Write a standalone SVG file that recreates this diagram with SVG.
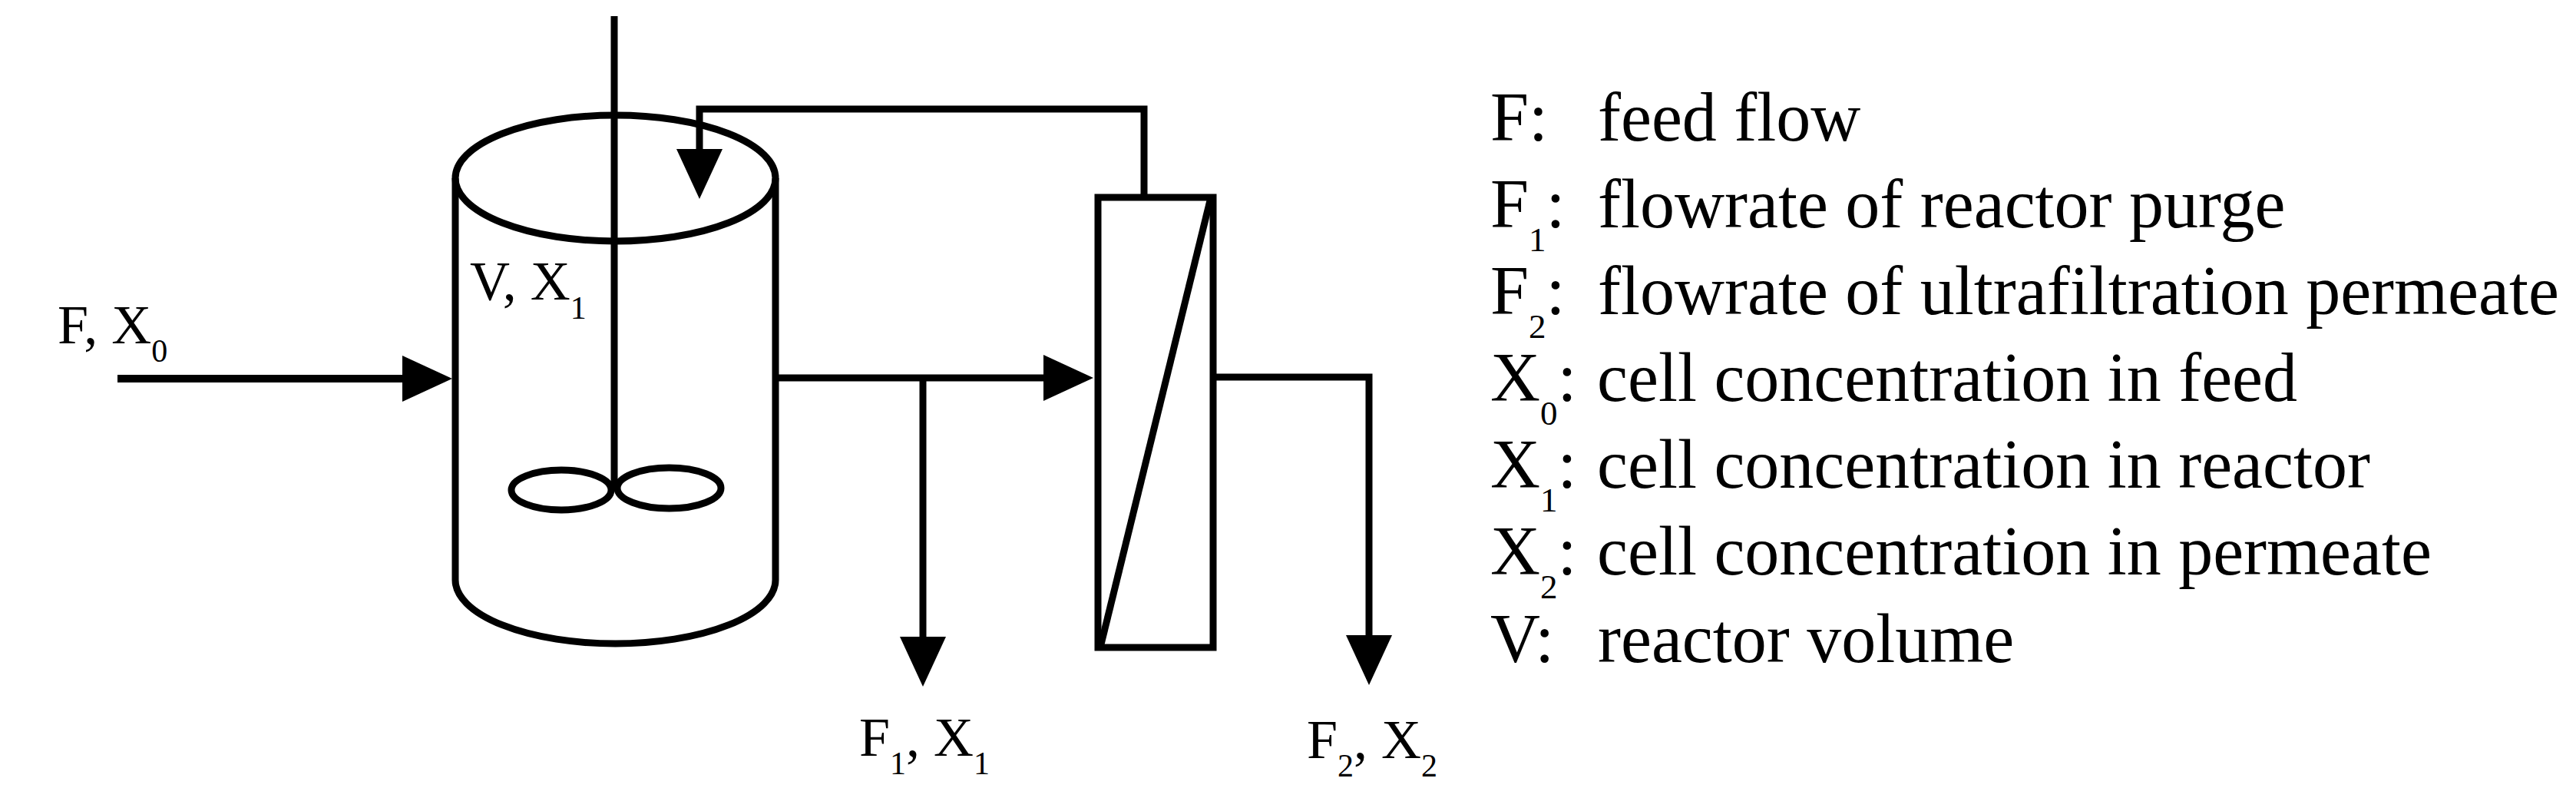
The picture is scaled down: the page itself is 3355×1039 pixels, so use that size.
<svg xmlns="http://www.w3.org/2000/svg" width="3355" height="1039" viewBox="0 0 3355 1039">
  <style>
    .ln { fill: none; stroke: #000; stroke-width: 9; stroke-linejoin: miter; stroke-linecap: butt; }
    text { font-family: 'Liberation Serif', serif; fill: #000; }
    .lbl { font-size: 72px; }
    .leg { font-size: 90px; }
  </style>
  <defs>
    <marker id="ah" markerUnits="userSpaceOnUse" markerWidth="66" markerHeight="60" refX="3" refY="30" orient="auto" viewBox="0 0 66 60">
      <path d="M0,0 L65,30 L0,60 Z" fill="#000"/>
    </marker>
  </defs>
  <rect x="0" y="0" width="3355" height="1039" fill="#fff"/>

  <g id="reactor">
    <path class="ln" d="M593,232 V755 A208.5,83 0 0 0 1010,755 V232"/>
    <ellipse class="ln" cx="801.5" cy="232" rx="208.5" ry="82"/>
    <line class="ln" x1="800" y1="21" x2="800" y2="634"/>
    <ellipse class="ln" cx="731" cy="638" rx="65" ry="26"/>
    <ellipse class="ln" cx="871.5" cy="635.5" rx="67.5" ry="26.5"/>
    <text class="lbl" x="612" y="390">V, X<tspan font-size="42" dy="25">1</tspan></text>
  </g>

  <g id="ultrafilter">
    <rect class="ln" x="1430" y="257" width="150" height="586"/>
    <line class="ln" x1="1434" y1="839" x2="1576" y2="261"/>
  </g>

  <g id="connectors">
    <line class="ln" style="stroke-width:10" x1="153" y1="493" x2="527" y2="493" marker-end="url(#ah)"/>
    <path class="ln" d="M1490,257 V142 H911 V197" marker-end="url(#ah)"/>
    <line class="ln" x1="1010" y1="492" x2="1362" y2="492" marker-end="url(#ah)"/>
    <line class="ln" x1="1202" y1="492" x2="1202" y2="832" marker-end="url(#ah)"/>
    <path class="ln" d="M1580,491 H1783 V830" marker-end="url(#ah)"/>
  </g>

  <g id="stream-labels">
    <text class="lbl" x="75" y="447">F, X<tspan font-size="42" dy="24">0</tspan></text>
    <text class="lbl" x="1119" y="984">F<tspan font-size="42" dy="24">1</tspan><tspan dy="-24">, X</tspan><tspan font-size="42" dy="24">1</tspan></text>
    <text class="lbl" x="1702" y="987">F<tspan font-size="42" dy="24">2</tspan><tspan dy="-24">, X</tspan><tspan font-size="42" dy="24">2</tspan></text>
  </g>

  <g id="legend">
    <text class="leg" x="1941" y="183">F:</text>
    <text class="leg" x="2081" y="183">feed flow</text>
    <text class="leg" x="1941" y="296">F<tspan font-size="45" dy="31">1</tspan><tspan dy="-31">:</tspan></text>
    <text class="leg" x="2081" y="296">flowrate of reactor purge</text>
    <text class="leg" x="1941" y="409">F<tspan font-size="45" dy="31">2</tspan><tspan dy="-31">:</tspan></text>
    <text class="leg" x="2081" y="409">flowrate of ultrafiltration permeate</text>
    <text class="leg" x="1941" y="522">X<tspan font-size="45" dy="31">0</tspan><tspan dy="-31">:</tspan></text>
    <text class="leg" x="2080" y="522">cell concentration in feed</text>
    <text class="leg" x="1941" y="635">X<tspan font-size="45" dy="31">1</tspan><tspan dy="-31">:</tspan></text>
    <text class="leg" x="2080" y="635">cell concentration in reactor</text>
    <text class="leg" x="1941" y="748">X<tspan font-size="45" dy="31">2</tspan><tspan dy="-31">:</tspan></text>
    <text class="leg" x="2080" y="748">cell concentration in permeate</text>
    <text class="leg" x="1941" y="862">V:</text>
    <text class="leg" x="2081" y="862">reactor volume</text>
  </g>
</svg>
